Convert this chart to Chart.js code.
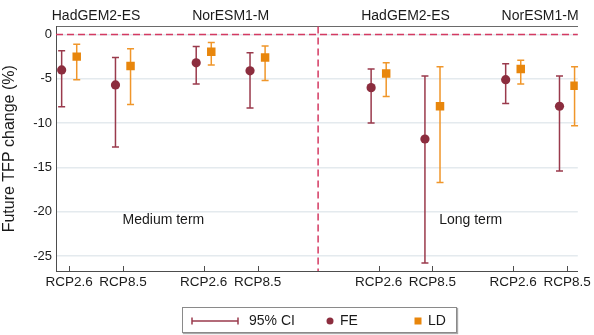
<!DOCTYPE html>
<html>
<head>
<meta charset="utf-8">
<script src="https://cdn.jsdelivr.net/npm/chart.js@4.4.1/dist/chart.umd.min.js"></script>
<style>
  body { margin: 0; background: #fff; font-family: "Liberation Sans", Arial, sans-serif; }
  #wrap { position: relative; width: 594px; height: 335px; }
  #legend { position: absolute; left: 182px; top: 307px; width: 273px; height: 24px;
            border: 1px solid #8a8a8a; box-shadow: 1px 1px 1px #aaa; background: #fff;
            font-size: 14px; color: #1a1a1a; }
  #legend .it { position: absolute; top: 4px; line-height: 16px; }
</style>
</head>
<body>
<div id="wrap">
  <canvas id="myChart" width="594" height="335"></canvas>
  <div id="legend">
    <svg style="position:absolute;left:8px;top:9px" width="48" height="8">
      <line x1="1" y1="4" x2="47" y2="4" stroke="#9a3a4c" stroke-width="1.5"/>
      <line x1="1" y1="0.5" x2="1" y2="7.5" stroke="#9a3a4c" stroke-width="1.5"/>
      <line x1="47" y1="0.5" x2="47" y2="7.5" stroke="#9a3a4c" stroke-width="1.5"/>
    </svg>
    <span class="it" style="left:66px">95% CI</span>
    <svg style="position:absolute;left:143px;top:9px" width="8" height="8"><circle cx="4" cy="4" r="3.5" fill="#8c2d3e"/></svg>
    <span class="it" style="left:157px">FE</span>
    <svg style="position:absolute;left:231px;top:9px" width="8" height="8"><rect x="0.5" y="0.5" width="7" height="7" fill="#e8860c"/></svg>
    <span class="it" style="left:245px">LD</span>
  </div>
</div>
<script>
// categories and groups
const categories = ['RCP2.6', 'RCP8.5', 'RCP2.6', 'RCP8.5', 'RCP2.6', 'RCP8.5', 'RCP2.6', 'RCP8.5'];
const models = ['HadGEM2-ES', 'NorESM1-M', 'HadGEM2-ES', 'NorESM1-M'];
const terms = ['Medium term', 'Long term'];

// FE estimates and 95% CI
const feMean = [-4.0, -5.7, -3.2, -4.1, -6.0, -11.8, -5.1, -8.1];
const feLow  = [-8.15, -12.7, -5.6, -8.3, -10.0, -25.8, -7.8, -15.4];
const feHigh = [-1.85, -2.6, -1.35, -2.05, -3.9, -4.7, -3.3, -4.7];

// LD estimates and 95% CI
const ldMean = [-2.5, -3.55, -1.95, -2.6, -4.4, -8.1, -3.9, -5.8];
const ldLow  = [-5.1, -7.9, -3.45, -5.2, -7.0, -16.7, -5.6, -10.3];
const ldHigh = [-1.1, -1.6, -0.9, -1.3, -3.2, -3.65, -2.9, -3.65];

const yTicks = [0, -5, -10, -15, -20, -25];

// layout on the x axis
const xPos = [0, 1, 2.5, 3.5, 5.75, 6.75, 8.25, 9.25];
const modelPos = [0.5, 3, 6.25, 8.75];
const termPos = [1.75, 7.46];
const dividerAt = 4.625;
const shift = 0.14;

const FE_COL = '#8c2d3e', FE_CI = '#9a3a4c';
const LD_COL = '#e8860c', LD_CI = '#f0962a';
const AXIS_COL = '#4d4d4d';

function pts(means, d) {
  return means.map((v, i) => ({ x: xPos[i] + d, y: v }));
}

const marks = {
  id: 'marks',
  beforeDatasetsDraw(chart) {
    const { ctx, chartArea: a, scales: { x, y } } = chart;
    ctx.save();

    // reference lines
    ctx.strokeStyle = '#d43a62';
    ctx.lineWidth = 1.5;
    ctx.setLineDash([7, 4]);
    const y0 = y.getPixelForValue(0);
    ctx.beginPath(); ctx.moveTo(a.left, y0); ctx.lineTo(a.right, y0); ctx.stroke();
    const xd = x.getPixelForValue(dividerAt);
    ctx.beginPath(); ctx.moveTo(xd, a.top); ctx.lineTo(xd, a.bottom); ctx.stroke();
    ctx.setLineDash([]);

    // inward tick marks on the bottom axis
    ctx.strokeStyle = AXIS_COL;
    ctx.lineWidth = 1;
    xPos.forEach(v => {
      const px = Math.round(x.getPixelForValue(v)) + 0.5;
      ctx.beginPath(); ctx.moveTo(px, a.bottom); ctx.lineTo(px, a.bottom - 5); ctx.stroke();
    });

    // confidence intervals
    function ci(lo, hi, d, col) {
      ctx.strokeStyle = col;
      ctx.lineWidth = 1.5;
      lo.forEach((v, i) => {
        const px = x.getPixelForValue(xPos[i] + d);
        const p1 = y.getPixelForValue(v), p2 = y.getPixelForValue(hi[i]);
        ctx.beginPath();
        ctx.moveTo(px, p1); ctx.lineTo(px, p2);
        ctx.moveTo(px - 3.5, p1); ctx.lineTo(px + 3.5, p1);
        ctx.moveTo(px - 3.5, p2); ctx.lineTo(px + 3.5, p2);
        ctx.stroke();
      });
    }
    ci(feLow, feHigh, -shift, FE_CI);
    ci(ldLow, ldHigh, shift, LD_CI);

    // term labels
    ctx.fillStyle = '#1a1a1a';
    ctx.font = '14px "Liberation Sans", Arial, sans-serif';
    ctx.textAlign = 'center';
    ctx.textBaseline = 'middle';
    terms.forEach((t, i) => {
      ctx.fillText(t, x.getPixelForValue(termPos[i]), y.getPixelForValue(-21));
    });
    ctx.restore();
  }
};

const ctx = document.getElementById('myChart').getContext('2d');
const chart = new Chart(ctx, {
  type: 'scatter',
  data: {
    datasets: [{
      label: 'FE',
      data: pts(feMean, -shift),
      pointStyle: 'circle',
      pointRadius: 4.6,
      backgroundColor: FE_COL,
      borderWidth: 0
    }, {
      label: 'LD',
      data: pts(ldMean, shift),
      pointStyle: 'rect',
      pointRadius: 6,
      backgroundColor: LD_COL,
      borderWidth: 0
    }]
  },
  options: {
    responsive: false,
    animation: false,
    layout: { padding: { left: 0, right: 12, top: 0, bottom: 34 } },
    plugins: { legend: { display: false }, tooltip: { enabled: false } },
    scales: {
      x: {
        type: 'linear', position: 'bottom', min: -0.245, max: 9.45,
        afterBuildTicks: s => { s.ticks = xPos.map(v => ({ value: v })); },
        afterFit: s => { s.height = 30; },
        grid: { display: false, drawTicks: false },
        border: { display: true, color: AXIS_COL, width: 1 },
        ticks: {
          autoSkip: false, maxRotation: 0, padding: 3, color: '#1a1a1a',
          font: { family: '"Liberation Sans", Arial, sans-serif', size: 13.5 },
          callback: (v, i) => categories[i]
        }
      },
      x2: {
        type: 'linear', position: 'top', min: -0.245, max: 9.45,
        afterBuildTicks: s => { s.ticks = modelPos.map(v => ({ value: v })); },
        afterFit: s => { s.height = 26.5; },
        grid: { display: false, drawTicks: false },
        border: { display: true, color: '#6a6a6a', width: 1 },
        ticks: {
          autoSkip: false, maxRotation: 0, padding: 2, color: '#1a1a1a',
          font: { family: '"Liberation Sans", Arial, sans-serif', size: 14 },
          callback: (v, i) => models[i]
        }
      },
      y: {
        min: -26.7, max: 0.9,
        afterBuildTicks: s => { s.ticks = yTicks.map(v => ({ value: v })); },
        afterFit: s => { s.width = 56; },
        grid: { color: '#e4eaee', lineWidth: 1.5, drawTicks: false },
        border: { display: true, color: AXIS_COL, width: 1 },
        title: {
          display: true, text: 'Future TFP change (%)', color: '#1a1a1a', padding: 0,
          font: { family: '"Liberation Sans", Arial, sans-serif', size: 16 }
        },
        ticks: {
          padding: 4, color: '#1a1a1a',
          font: { family: '"Liberation Sans", Arial, sans-serif', size: 13 },
          callback: v => String(v)
        }
      }
    }
  },
  plugins: [marks]
});
</script>
</body>
</html>
